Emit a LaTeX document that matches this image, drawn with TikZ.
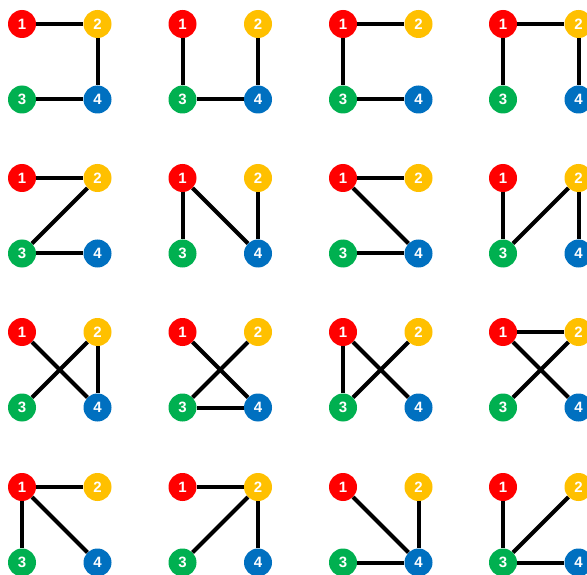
\documentclass[tikz,border=0pt]{standalone}
\usepackage{fontspec}
\setmainfont{Liberation Sans}
\definecolor{cR}{HTML}{FF0000}
\definecolor{cY}{HTML}{FFC000}
\definecolor{cG}{HTML}{00B050}
\definecolor{cB}{HTML}{0070C0}
\tikzset{
  vert/.style={circle,inner sep=0pt,minimum size=28pt,text=white,font=\fontsize{15}{15}\selectfont\bfseries},
  edge/.style={line width=4pt,black}
}
\newcommand\kpanel[4]{%
  \node[vert,fill=cR] (#1-1) at (#2,#3) {1};
  \node[vert,fill=cY] (#1-2) at (#2+75.5,#3) {2};
  \node[vert,fill=cG] (#1-3) at (#2,#3+75.5) {3};
  \node[vert,fill=cB] (#1-4) at (#2+75.5,#3+75.5) {4};
  \foreach \a/\b in {#4} {\draw[edge] (#1-\a) -- (#1-\b);}
}
\begin{document}
\begin{tikzpicture}[x=1pt,y=-1pt]
\useasboundingbox (0,0) rectangle (587,575);
\kpanel{p11}{22}{24}{1/2,2/4,3/4}
\kpanel{p12}{182.5}{24}{1/3,3/4,2/4}
\kpanel{p13}{343}{24}{1/2,1/3,3/4}
\kpanel{p14}{503}{24}{1/2,1/3,2/4}
\kpanel{p21}{22}{178}{1/2,2/3,3/4}
\kpanel{p22}{182.5}{178}{1/3,1/4,2/4}
\kpanel{p23}{343}{178}{1/2,1/4,3/4}
\kpanel{p24}{503}{178}{1/3,2/3,2/4}
\kpanel{p31}{22}{332}{1/4,2/3,2/4}
\kpanel{p32}{182.5}{332}{1/4,2/3,3/4}
\kpanel{p33}{343}{332}{1/3,1/4,2/3}
\kpanel{p34}{503}{332}{1/2,1/4,2/3}
\kpanel{p41}{22}{487}{1/2,1/3,1/4}
\kpanel{p42}{182.5}{487}{1/2,2/3,2/4}
\kpanel{p43}{343}{487}{1/4,2/4,3/4}
\kpanel{p44}{503}{487}{1/3,2/3,3/4}
\end{tikzpicture}
\end{document}
